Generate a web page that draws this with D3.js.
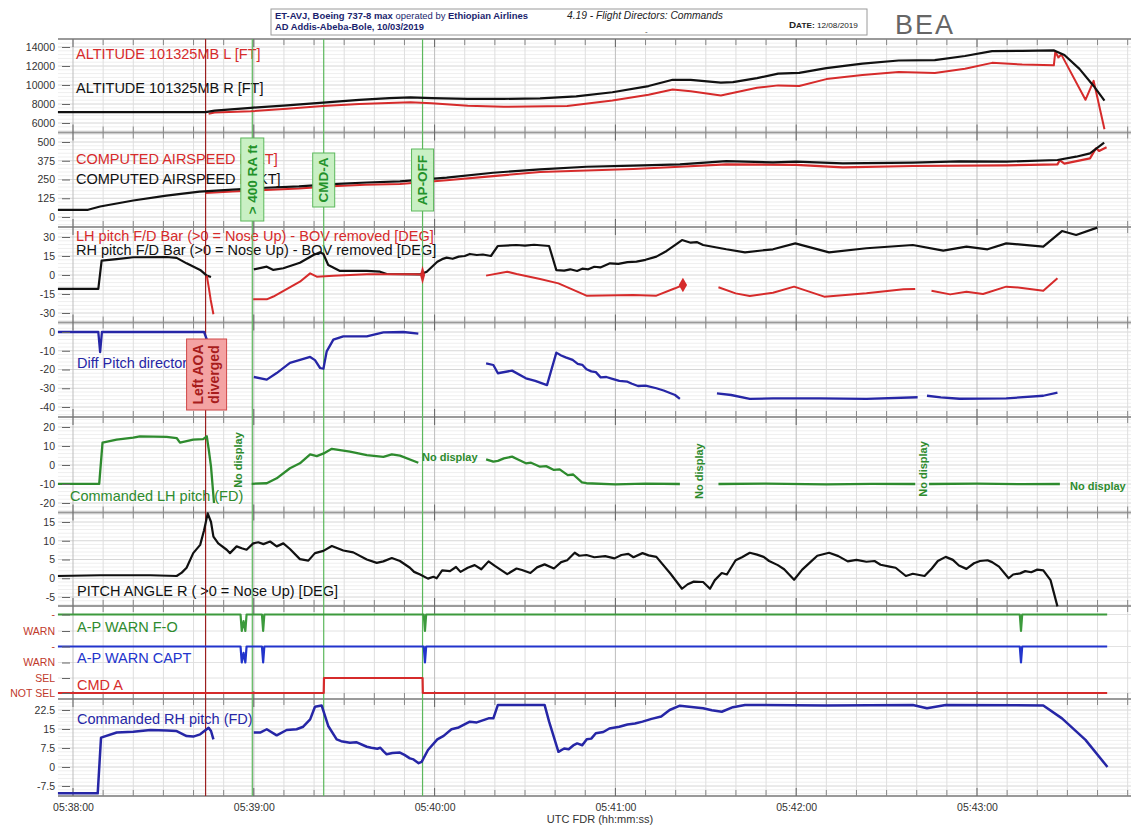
<!DOCTYPE html>
<html><head><meta charset="utf-8">
<script src="https://cdn.jsdelivr.net/npm/d3@7"></script>
<style>
body{margin:0;background:#fff}
svg text{font-family:"Liberation Sans",Arial,Helvetica,sans-serif}
</style>
</head><body>
<svg id="chart" width="1131" height="827"></svg>
<script>
// ---------------- DATA (time in seconds after 05:38:00) ----------------
const timeTickSeconds = [0, 60, 120, 180, 240, 300];
const timeLabels = ["05:38:00", "05:39:00", "05:40:00", "05:41:00", "05:42:00", "05:43:00"];
const xAxisTitle = "UTC FDR (hh:mm:ss)";

const altTicks = [6000, 8000, 10000, 12000, 14000];
const casTicks = [0, 125, 250, 375, 500];
const fdTicks = [-30, -15, 0, 15, 30];
const diffTicks = [-40, -30, -20, -10, 0];
const lhTicks = [-20, -10, 0, 10, 20];
const pitchTicks = [-5, 0, 5, 10, 15];
const rhTicks = [-7.5, 0, 7.5, 15, 22.5];
const warnLabels = ["-", "WARN"];
const cmdLabels = ["NOT SEL", "SEL"];

const altR = [[-5,7150],[44,7150],[47,7300],[59,7600],[71,7850],[83,8150],[95,8430],[105,8620],[112,8690],[119,8620],[131,8540],[143,8540],[155,8600],[167,8800],[179,9240],[191,9890],[199,10550],[205,10530],[215,10250],[219,10300],[227,10730],[234,11200],[241,11270],[250,11780],[262,12250],[274,12580],[286,12620],[296,13050],[305,13560],[315,13600],[325.6,13640],[329,13160],[334,11700],[338.7,9900],[342.3,8360]];
const altL = [[45,6980],[47,7100],[59,7240],[71,7490],[83,7780],[95,8000],[112,8180],[119,8070],[131,7820],[143,7710],[164,7780],[179,8360],[191,8980],[199,9530],[205,9350],[215,8900],[227,9710],[234,9960],[241,9900],[250,10620],[262,11050],[274,11380],[286,11270],[296,11710],[305,12330],[315,12150],[325.5,12070],[326,13530],[327,12900],[328,13200],[336,8440],[338.7,10440],[342.3,5350]];

const casR = [[-5,48],[5,48],[9,70],[20,110],[31,143],[42,169],[53,182],[64,195],[75,204],[86,219],[97.5,230],[108.5,237],[124,262],[139.4,295],[155,318],[170.4,335],[185.9,342],[201.4,351],[216.8,373],[232.3,364],[240,369],[255.5,358],[278.7,362],[294.2,371],[309.7,369],[326.7,380],[332.9,402],[337.5,424],[342.2,496]];
const casL = [[44,160],[53,170],[64,180],[75,190],[86,205],[97,215],[108.5,220],[124,245],[139.4,273],[155,300],[185.9,320],[201.4,335],[216.8,351],[240,347],[255.5,331],[278.7,340],[309.7,344],[326.7,351],[327.5,378],[329,356],[337.5,391],[339.5,458],[340.5,440],[343,465]];

const fdBarLH = [
  [[44.4,-0.5],[45,-9],[45.7,-19.7],[46.6,-31]],
  [[59.8,-19.2],[64.3,-19.2],[66.5,-17],[75.3,-5.3],[78.7,1.3],[80.9,-1.3],[86.4,-0.5],[97.5,0.5],[113,0.5],[116,0.3]],
  [[137.1,-0.5],[144.1,2.6],[147.2,0.8],[155,-3.2],[161.1,-6.6],[170.4,-16.3],[185.9,-15.8],[193.6,-16.3],[199.8,-10.5],[202.4,-7.9]],
  [[214.2,-9.7],[219.9,-14.5],[224.6,-16.6],[232.3,-14],[239.3,-9.2],[249.3,-17.1],[263.3,-14.5],[275.6,-11.3],[279.5,-11]],
  [[284.9,-12.4],[291.1,-15.3],[296.5,-13.2],[302,-15],[309.7,-9.2],[314.3,-10],[322,-12.4],[326.7,-2.6]]
];
const fdBarLHBlobs = [[116,0],[202.4,-7.9]];
const fdBarRH = [
  [[-5,-11],[8.4,-11],[9.5,11.3],[14.5,12.6],[20,14],[31.1,14.2],[34.4,13.5],[37.7,9.2],[42.2,4],[44.4,-0.5],[45.8,-1.6]],
  [[60,4.5],[64.3,6.6],[66.5,4],[69.8,5.3],[75.3,9.7],[79.8,15.8],[82,18],[83.1,16.6],[84.7,7.9],[88.6,3.2],[97.5,3.2],[101.9,2.6],[104.1,0.8],[115.2,0.5],[117.4,2.6],[120.9,10.5],[122.5,12.5],[124,13.7],[126,12.8],[128,14.5],[130,15],[131.7,16.6],[134,15.8],[136,16.2],[138.7,15],[141,22.9],[147.2,23.7],[150,23.2],[153,23.9],[158,22.9],[160.4,3.9],[163,3.5],[165,4.5],[167.3,3.2],[169,5],[171,4.5],[173,6.5],[175,6],[178.2,9.2],[181,8.8],[184,10.2],[187,10.6],[190,12],[193.6,14.5],[197,19],[200,24],[202.1,27.6],[205,25.5],[207,26],[209.1,23.7],[216.8,20.3],[223,17.9],[232.3,20.3],[239.7,25],[250.9,17.9],[263.3,21.1],[278.7,23.7],[288.8,19.2],[296.5,22.4],[303.5,20.3],[309.7,25],[322,22.4],[328.2,34.7],[332.9,31.6],[339.9,37.4]]
];

const diffPitch = [
  [[-5,0],[8.4,0],[9,-10.7],[9.6,0],[43.5,0],[44.4,-4]],
  [[60,-24],[64.3,-25.4],[67.6,-21.9],[72,-16.5],[78.7,-13.3],[80.3,-15],[82,-19.2],[83.1,-19.6],[84.2,-10.3],[86.4,-4.1],[89.7,-2.3],[97.5,-2.3],[103,-0.2],[109.6,0],[114.6,-0.9]],
  [[137.1,-16.7],[139.5,-17.6],[141,-22],[145.7,-20.6],[150.3,-24.7],[153.4,-26.1],[157.3,-28.3],[160.4,-11],[162,-12.5],[163.5,-13.5],[165.8,-14.9],[167.5,-17],[169,-17.5],[170.4,-19.9],[172,-21],[173.5,-21.4],[175.1,-24.2],[177,-24],[179,-25],[181.3,-26.1],[184,-26.5],[185.5,-27.6],[187.5,-28.8],[190,-28.6],[193.6,-30],[196,-31.2],[199.8,-33.6],[201.4,-35.7]],
  [[213.7,-32.7],[218.4,-33.6],[224.6,-35.7],[232.3,-35.4],[247.8,-35.4],[263.3,-35.7],[280.3,-34.8]],
  [[283.4,-34],[288,-34.9],[294.2,-35.6],[309.7,-35.4],[322,-34],[326.7,-32.3]]
];

const cmdLH = [
  [[-5,-9.9],[8.7,-9.9],[9.8,11.8],[14.5,13.4],[20,14.4],[22.2,15.1],[31.1,14.8],[34.4,14.2],[35.5,11.8],[39.9,13.4],[43.2,13.6],[44.4,15.1],[45,8.7],[45.8,-0.9],[46.8,-20]],
  [[59.3,-9.9],[64.3,-9.6],[67.6,-7],[72,-1.7],[75.3,0.9],[78.7,5.6],[80.9,4.7],[83.6,6.4],[85.9,8.5],[91.9,7],[97.5,5.2],[103,4.3],[105.8,5.6],[108.5,4.9],[114.6,1.2]],
  [[137.1,3],[139.5,1.8],[141,2.2],[143,3.5],[145.7,4.4],[147.5,3],[150.3,0.9],[152,1.2],[155,-0.9],[157,-0.6],[159.6,-2.6],[161.5,-2.3],[164.2,-5.3],[166,-5],[168.9,-9.1],[170.4,-9.6],[180,-10.2],[190,-9.8],[201.4,-10]],
  [[214.2,-10],[230,-9.8],[250,-10.2],[265,-9.9],[279.5,-10]],
  [[284.1,-10],[300,-9.8],[315,-10.1],[327.5,-10]]
];
const noDisplayNotes = [[54.8,2.6,"v"],[115.8,4.4,"h"],[207.8,-3.2,"v"],[282.1,-2.1,"v"],[330.9,-11,"h"]];
const noDisplayText = "No display";

const pitchR = [[-5,0.6],[9,0.8],[25.7,0.8],[34.4,0.6],[36.1,1.5],[37.7,2.8],[39.9,6.7],[42.2,8.9],[43.5,12.8],[44.7,17.3],[45.8,15],[46.6,11.1],[48.2,9.3],[51,7.6],[52.1,6.7],[54.3,8.5],[56,8],[57.6,7.6],[59.8,9.3],[61.5,9.6],[63.2,9.1],[65.4,9.8],[67.6,8.5],[69.8,9.3],[72,7.8],[75.3,5.1],[78.1,4.7],[80.3,6.7],[83.1,7.3],[85.9,8.6],[89.7,7.4],[93,6.9],[97.5,5],[100.8,4.1],[103,4.5],[105.8,5.4],[108.5,4.6],[111.8,2.8],[113.2,1.7],[115.2,1],[117.8,-0.1],[119.6,0.4],[120.7,0],[122.5,2.1],[125.1,1.9],[127.1,3],[128.6,1.7],[131,2.8],[133.3,3.5],[135.5,2.4],[137.9,4.5],[140,3.3],[144.1,1.1],[147.2,2.6],[149,2.2],[151.8,1.4],[154,2.9],[156.5,3.7],[159.6,2.6],[162,4.3],[164,4.8],[166.5,6.8],[168,6],[170.4,6.2],[173,5.6],[176.6,5.9],[179.7,5.3],[182,6.2],[184.3,6.5],[186,5.6],[189,6.7],[191,6.1],[193.6,5.7],[198.3,1.2],[202.1,-2.8],[204,-1.6],[206,-0.9],[209.1,-1],[211.4,-2.8],[213,-0.5],[215.3,1.4],[217,1],[219.9,4.8],[222,5.6],[224.6,6.8],[227,6.3],[229.2,5.7],[231,4.6],[233.9,3.5],[236,2.4],[239.3,-0.4],[242,2.3],[244.7,4.3],[247,6],[250.9,6.8],[254,5.9],[257.1,4.5],[260,4.9],[263.3,4.4],[266,4.6],[268,3.6],[271,3.1],[273,2.8],[276.4,0.6],[278.7,1.2],[282.6,0.6],[285,2.6],[287,4.6],[289.6,5.7],[292,4.9],[294,3.4],[296.5,2.5],[299,4],[301,4.6],[303.5,4.8],[305,4.3],[307.3,3.1],[310.5,0],[312,1],[314.3,1.3],[316,1.9],[318,1.6],[320,2.3],[322,2.1],[324.4,-0.5],[326.7,-7.5]];

const warnFO = [[-5,0],[55.6,0],[56,1],[56.6,0.4],[57.2,1],[57.6,0],[62.7,0],[63.1,1],[63.5,0],[116.4,0],[116.8,1],[117.2,0],[314.2,0],[314.6,1],[315,0],[343.2,0]];
const warnCapt = [[-5,0],[55.6,0],[56,1],[56.6,0.4],[57.2,1],[57.6,0],[62.7,0],[63.1,1],[63.5,0],[116.4,0],[116.8,1],[117.2,0],[314.2,0],[314.6,1],[315,0],[343.2,0]];
const cmdA = [[-5,0],[83.2,0],[83.3,1],[116,1],[116.1,0],[343.2,0]];

const cmdRH = [
  [[-5,-10.4],[8.2,-10.4],[9.3,11.6],[14.5,13.6],[20,13.9],[25.7,14.6],[31.1,14.4],[34.4,14.2],[37.7,12.2],[39.9,12],[42.2,12.9],[45,15.5],[45.8,14.2],[46.6,10.9]],
  [[60,13.6],[62.1,13.6],[64.3,14.9],[67.6,12.5],[70.9,14.6],[74.2,14.9],[76.4,15.9],[78.7,18.8],[80.3,23.8],[82.5,24.3],[84.7,16.2],[87.5,10.9],[89,10.2],[91.9,9.6],[94,9.8],[97.5,8],[99,7.6],[101,7.2],[102,7.6],[103,6.3],[104.1,5],[106,5.5],[108.5,5.7],[110,4.8],[111.8,3.4],[113,3],[114.7,1.5],[115.7,2],[117.8,6.7],[120.9,10.9],[123,12.3],[125.6,14.9],[128,15.6],[131.7,17.9],[134,17.6],[137.9,19.2],[139.5,19.2],[141,24.5],[156.5,24.5],[158,17.9],[161.1,6],[163,7.3],[164.5,7],[166,8.5],[167.3,9.3],[169,8.6],[170.5,11],[172,11.2],[173.5,13.3],[176,13.8],[178,15.2],[181.3,15.9],[184,16.8],[186.5,17.2],[189,17.9],[192,19],[195.2,19.9],[198,22.5],[201.4,24.2],[209.1,23.2],[212,22.4],[215.3,21.8],[219,23.6],[223,24.5],[250,24.3],[278.7,24.5],[283.4,23.2],[289.6,24.5],[322,24.3],[328.2,19.2],[336,10.7],[343.3,0]]
];

const markerTimes = [44, 59.5, 83.2, 116];
const markerLabels = [["Left AOA","diverged"], ["> 400 RA ft"], ["CMD-A"], ["AP-OFF"]];

const seriesTitles = [
  "ALTITUDE 101325MB L [FT]", "ALTITUDE 101325MB R [FT]",
  "COMPUTED AIRSPEED L [KT]", "COMPUTED AIRSPEED R [KT]",
  "LH pitch F/D Bar (>0 = Nose Up) - BOV removed [DEG]", "RH pitch F/D Bar (>0 = Nose Up) - BOV removed [DEG]",
  "Diff Pitch director", "Commanded LH pitch (FD)", "PITCH ANGLE R ( >0 = Nose Up) [DEG]",
  "A-P WARN F-O", "A-P WARN CAPT", "CMD A", "Commanded RH pitch (FD)"
];

// ---------------- LAYOUT & STYLE ----------------
const RED = "#d62b2b", BLACK = "#111", NAVY = "#2626a6", BLUE = "#2234cc", GREEN = "#2e8b2e", GREEN2 = "#3c9a3c";
const X0 = 58, X1 = 1131, TOP = 39, BOTTOM = 796;
const svg = d3.select("#chart");
const x = d3.scaleLinear().domain([0, 300]).range([73, 977]);

const panels = [
  {top:39, bottom:132.5, domain:[6000,14000], range:[123,47], ticks:altTicks},
  {top:132.5, bottom:227, domain:[0,500], range:[217,142], ticks:casTicks},
  {top:227, bottom:322.5, domain:[-30,30], range:[313,237], ticks:fdTicks},
  {top:322.5, bottom:417, domain:[-40,0], range:[407,332], ticks:diffTicks},
  {top:417, bottom:512.5, domain:[-20,20], range:[503,427], ticks:lhTicks},
  {top:512.5, bottom:606, domain:[-5,15], range:[597,522], ticks:pitchTicks},
  {top:606, bottom:638, domain:[0,1], range:[614.5,631], ticks:[0,1], labels:warnLabels, signal:true},
  {top:638, bottom:670, domain:[0,1], range:[646.5,662.5], ticks:[0,1], labels:warnLabels, signal:true},
  {top:670, bottom:699, domain:[0,1], range:[693,678], ticks:[0,1], labels:cmdLabels, signal:true},
  {top:699, bottom:796, domain:[-7.5,22.5], range:[786,710], ticks:rhTicks}
];
panels.forEach(p => p.y = d3.scaleLinear().domain(p.domain).range(p.range));

const gGrid = svg.append("g");
const gBorders = svg.append("g");
const gTitles = svg.append("g");
const gMarkers = svg.append("g");
const gData = svg.append("g");
const gBoxes = svg.append("g");
const gAxes = svg.append("g");

// horizontal grid
panels.forEach(p => {
  if (p.signal) {
    p.ticks.forEach(v => gGrid.append("line").attr("x1",X0).attr("x2",X1)
      .attr("y1",p.y(v)).attr("y2",p.y(v)).attr("stroke","#e2e2e2").attr("stroke-width",1));
    return;
  }
  const step = (p.ticks[1]-p.ticks[0]) / 5;
  const vTop = p.y.invert(p.top+1), vBot = p.y.invert(p.bottom-1);
  const lo = Math.ceil(Math.min(vTop,vBot)/step), hi = Math.floor(Math.max(vTop,vBot)/step);
  for (let k = lo; k <= hi; k++) {
    const v = k*step, yy = p.y(v);
    const major = p.ticks.some(t => Math.abs(t - v) < step/10);
    gGrid.append("line").attr("x1",X0).attr("x2",X1).attr("y1",yy).attr("y2",yy)
      .attr("stroke", major ? "#d6d6d6" : "#efefef").attr("stroke-width",1);
  }
});
// vertical grid
const gridTimes = d3.range(0, 351, 10);
gridTimes.forEach(t => {
  const major = t % 60 === 0;
  gGrid.append("line").attr("x1",x(t)).attr("x2",x(t)).attr("y1",TOP).attr("y2",BOTTOM)
    .attr("stroke", major ? "#bdbdbd" : "#dedede").attr("stroke-width",1);
});

// borders with ticks
const borderYs = [39,132.5,227,322.5,417,512.5,606,699,796];
borderYs.forEach((by,i) => {
  gBorders.append("line").attr("x1",X0).attr("x2",X1).attr("y1",by).attr("y2",by)
    .attr("stroke","#9a9a9a").attr("stroke-width",2);
  gridTimes.forEach(t => {
    const major = t % 60 === 0;
    const up = i === 0 ? 0 : (major ? 8 : 6);
    const dn = i === borderYs.length-1 ? 0 : (major ? 8 : 6);
    gBorders.append("line").attr("x1",x(t)).attr("x2",x(t)).attr("y1",by-up).attr("y2",by+dn)
      .attr("stroke", major ? "#666" : "#888").attr("stroke-width",1);
  });
});

// titles
const titleSpecs = [
  [0,RED,76,59],[1,BLACK,76,93],[2,RED,76,164],[3,BLACK,76,184],[4,RED,76,241],[5,BLACK,76,255],
  [6,NAVY,77,368],[7,GREEN,70,501],[8,BLACK,77,596],[9,GREEN,77,632],[10,BLUE,77,663],[11,RED,77,690],[12,NAVY,77,724]
];
titleSpecs.forEach(([i,c,tx,ty]) => gTitles.append("text").attr("x",tx).attr("y",ty)
  .attr("fill",c).attr("font-size",14.5).text(seriesTitles[i]));

// marker lines
const markerColors = ["#9b2020", "#5cb85c", "#5cb85c", "#5cb85c"];
markerTimes.forEach((t,i) => gMarkers.append("line").attr("x1",x(t)).attr("x2",x(t))
  .attr("y1",TOP).attr("y2",BOTTOM).attr("stroke",markerColors[i]).attr("stroke-width",1.2));

// data lines
function drawLine(p, data, color, w) {
  const line = d3.line().x(d => x(d[0])).y(d => p.y(d[1]));
  gData.append("path").datum(data).attr("d",line).attr("fill","none")
    .attr("stroke",color).attr("stroke-width",w).attr("stroke-linejoin","round");
}
drawLine(panels[0], altL, RED, 2);
drawLine(panels[0], altR, BLACK, 2.2);
drawLine(panels[1], casL, RED, 2.2);
drawLine(panels[1], casR, BLACK, 2.2);
fdBarRH.forEach(s => drawLine(panels[2], s, BLACK, 2.2));
fdBarLH.forEach(s => drawLine(panels[2], s, RED, 2));
fdBarLHBlobs.forEach((d,i) => gData.append("path")
  .attr("d", d3.symbol().type(d3.symbolDiamond).size(i===0 ? 45 : 60)())
  .attr("transform",`translate(${x(d[0])},${panels[2].y(d[1])}) scale(${i===0?0.7:1},${i===0?1.5:1})`)
  .attr("fill",RED));
diffPitch.forEach(s => drawLine(panels[3], s, NAVY, 2.3));
cmdLH.forEach(s => drawLine(panels[4], s, GREEN, 2.3));
drawLine(panels[5], pitchR, BLACK, 2.2);
drawLine(panels[6], warnFO, GREEN2, 2.2);
drawLine(panels[7], warnCapt, BLUE, 2.2);
drawLine(panels[8], cmdA, RED, 2.2);
cmdRH.forEach(s => drawLine(panels[9], s, NAVY, 2.5));

// "No display" notes
noDisplayNotes.forEach(([t,v,o]) => {
  const tx = x(t), ty = panels[4].y(v);
  const txt = gBoxes.append("text").attr("fill",GREEN).attr("font-size",11).attr("font-weight","bold")
    .text(noDisplayText);
  if (o === "v") txt.attr("text-anchor","middle").attr("dominant-baseline","central")
    .attr("transform",`translate(${tx},${ty}) rotate(-90)`);
  else txt.attr("x",tx).attr("y",ty).attr("dominant-baseline","central");
});

// marker label boxes
const boxSpecs = [
  {w:40, y0:339, y1:410, fill:"#f4a3a3", stroke:"#d04848", color:"#a81c1c", fs:14},
  {w:23, y0:138, y1:221, fill:"#c9f0c4", stroke:"#5cb85c", color:"#23922a", fs:13.5},
  {w:22, y0:153, y1:207, fill:"#c9f0c4", stroke:"#5cb85c", color:"#23922a", fs:13.5},
  {w:22, y0:149, y1:211, fill:"#c9f0c4", stroke:"#5cb85c", color:"#23922a", fs:13.5}
];
markerTimes.forEach((t,i) => {
  const b = boxSpecs[i], cx = x(t) + (i===0 ? 1 : 0), cy = (b.y0+b.y1)/2;
  gBoxes.append("rect").attr("x",cx-b.w/2).attr("y",b.y0).attr("width",b.w).attr("height",b.y1-b.y0)
    .attr("fill",b.fill).attr("stroke",b.stroke).attr("stroke-width",1);
  const lines = markerLabels[i];
  const txt = gBoxes.append("text").attr("transform",`translate(${cx},${cy}) rotate(-90)`)
    .attr("text-anchor","middle").attr("fill",b.color).attr("font-size",b.fs).attr("font-weight","bold");
  lines.forEach((s,k) => txt.append("tspan").attr("x",0)
    .attr("y", (k - (lines.length-1)/2) * 16).attr("dy","0.35em").text(s));
});

// y axes
panels.forEach(p => {
  const ax = d3.axisLeft(p.y).tickValues(p.ticks).tickSize(8).tickPadding(7)
    .tickFormat((d,i) => p.labels ? p.labels[i] : String(d));
  const g = gAxes.append("g").attr("transform","translate(70,0)").call(ax);
  g.select(".domain").remove();
  g.selectAll(".tick line").attr("stroke","#666");
  g.selectAll(".tick text").attr("font-size",10.5).attr("font-family","Liberation Sans, Arial, sans-serif")
    .attr("fill", p.signal ? "#c0392b" : "#333");
});

// x axis
const xg = gAxes.append("g").attr("transform",`translate(0,${BOTTOM})`)
  .call(d3.axisBottom(x).tickValues(timeTickSeconds).tickFormat((d,i) => timeLabels[i]).tickSize(0).tickPadding(7.5));
xg.select(".domain").remove();
xg.selectAll(".tick text").attr("font-size",10.5).attr("fill","#333").attr("font-family","Liberation Sans, Arial, sans-serif");
gAxes.append("text").attr("x",600).attr("y",823).attr("text-anchor","middle").attr("font-size",11)
  .attr("fill","#333").text(xAxisTitle);

// header
const hdr = svg.append("g");
hdr.append("rect").attr("x",271).attr("y",9).attr("width",596).attr("height",26)
  .attr("fill","#fff").attr("stroke","#9a9a9a").attr("stroke-width",1);
function fit(sel, x0, y0, width) {
  const w = sel.node().getComputedTextLength();
  sel.attr("transform",`translate(${x0},${y0}) scale(${width/w},1)`);
}
const h1 = hdr.append("text").attr("font-size",9.5).attr("fill","#1b1f6e");
h1.append("tspan").attr("font-weight","bold").text("ET-AVJ, Boeing 737-8 max ");
h1.append("tspan").text("operated by ");
h1.append("tspan").attr("font-weight","bold").text("Ethiopian Airlines");
fit(h1, 275, 19, 253);
const h2 = hdr.append("text").attr("font-size",9.5).attr("fill","#1b1f6e").attr("font-weight","bold")
  .text("AD Addis-Abeba-Bole, 10/03/2019");
fit(h2, 275, 30, 149);
const h3 = hdr.append("text").attr("font-size",10).attr("font-style","italic").attr("fill","#222")
  .text("4.19 - Flight Directors: Commands");
fit(h3, 567, 19, 156);
const h4 = hdr.append("text").attr("fill","#222");
h4.append("tspan").attr("font-weight","bold").attr("font-size",9).text("D");
h4.append("tspan").attr("font-weight","bold").attr("font-size",7.5).text("ATE: ");
h4.append("tspan").attr("font-size",7.5).text("12/08/2019");
fit(h4, 789, 28, 69);
hdr.append("text").attr("x",645).attr("y",34).attr("font-size",8).attr("fill","#444").text("-");
hdr.append("text").attr("x",895).attr("y",34).attr("font-size",27).attr("fill","#666")
  .attr("font-family","DejaVu Sans").attr("font-weight",200).attr("letter-spacing",2).text("BEA");
</script>
</body></html>
